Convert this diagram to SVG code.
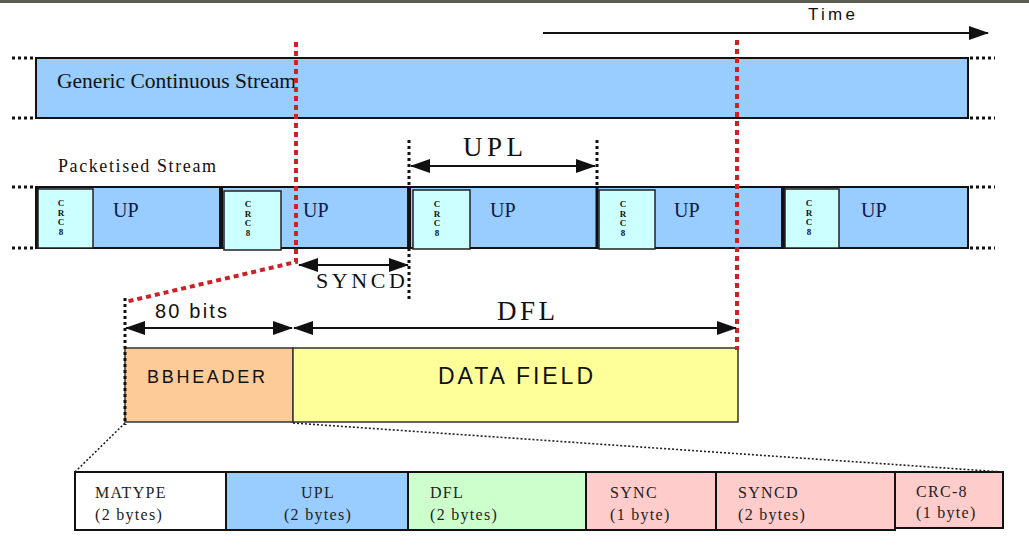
<svg xmlns="http://www.w3.org/2000/svg" width="1029" height="555" viewBox="0 0 1029 555">
<style>
.serif{font-family:"Liberation Serif","Times New Roman",serif;fill:#111}
.sans{font-family:"Liberation Sans",Arial,sans-serif;fill:#111}
.box{stroke:#111;stroke-width:2}
.blue{fill:#99ccff}
.crc{fill:#ccffff;stroke:#222;stroke-width:1.5}
.red{stroke:#cc2127;stroke-width:4;stroke-dasharray:5 4;fill:none}
.bdot{stroke:#111;stroke-width:3;stroke-dasharray:3 3;fill:none}
.tdot{stroke:#222;stroke-width:1.6;stroke-dasharray:2 2;fill:none}
.arr{stroke:#111;stroke-width:2;fill:none}
.crct{font-family:"Liberation Serif","Times New Roman",serif;font-weight:bold;font-size:9px;fill:#111;text-anchor:middle}
.up{font-family:"Liberation Serif","Times New Roman",serif;font-size:20px;fill:#0a1a4a}
.cell{stroke:#111;stroke-width:2}
.ct{font-family:"Liberation Serif","Times New Roman",serif;font-size:16px;fill:#222;letter-spacing:1.3px}
</style>
<defs>
<marker id="ah" viewBox="0 0 20 14" refX="19" refY="7" markerWidth="20" markerHeight="14" markerUnits="userSpaceOnUse" orient="auto-start-reverse">
<path d="M0,0 L20,7 L0,14 Z" fill="#111"/>
</marker>
</defs>
<rect x="0" y="0" width="1029" height="3" fill="#5b5b4f"/>

<g id="time">
<line x1="543" y1="33" x2="988" y2="33" class="arr" marker-end="url(#ah)"/>
<text x="808" y="20" class="sans" font-size="17" textLength="47" lengthAdjust="spacing">Time</text>
</g>

<g id="generic-stream">
<rect x="36" y="58" width="932" height="60" class="box blue"/>
<text x="57" y="88" class="serif" font-size="21" fill="#0a1a4a" textLength="239" lengthAdjust="spacingAndGlyphs">Generic Continuous Stream</text>
<line x1="12" y1="58" x2="36" y2="58" class="bdot"/>
<line x1="12" y1="118" x2="36" y2="118" class="bdot"/>
<line x1="970" y1="58" x2="995" y2="58" class="bdot"/>
<line x1="970" y1="118" x2="995" y2="118" class="bdot"/>
</g>

<g id="packetised-stream">
<text x="58" y="172" class="serif" font-size="18" textLength="158" lengthAdjust="spacing">Packetised Stream</text>
<rect x="36" y="187" width="932" height="61" class="box blue"/>
<line x1="37" y1="187" x2="37" y2="248" stroke="#111" stroke-width="4"/>
<line x1="221" y1="187" x2="221" y2="248" stroke="#111" stroke-width="4"/>
<line x1="409" y1="187" x2="409" y2="248" stroke="#111" stroke-width="4"/>
<line x1="597" y1="187" x2="597" y2="248" stroke="#111" stroke-width="3"/>
<line x1="783" y1="187" x2="783" y2="248" stroke="#111" stroke-width="4"/>
<rect x="38" y="189" width="55" height="59" class="crc"/>
<rect x="224" y="191" width="57" height="59" class="crc"/>
<rect x="413" y="190" width="57" height="59" class="crc"/>
<rect x="599" y="190" width="56" height="59" class="crc"/>
<rect x="785" y="189" width="54" height="59" class="crc"/>
<text class="crct"><tspan x="61" y="206">C</tspan><tspan x="61" y="215.5">R</tspan><tspan x="61" y="225">C</tspan><tspan x="61" y="234.5">8</tspan></text>
<text class="crct"><tspan x="248" y="207">C</tspan><tspan x="248" y="216.5">R</tspan><tspan x="248" y="226">C</tspan><tspan x="248" y="235.5">8</tspan></text>
<text class="crct"><tspan x="437" y="207">C</tspan><tspan x="437" y="216.5">R</tspan><tspan x="437" y="226">C</tspan><tspan x="437" y="235.5">8</tspan></text>
<text class="crct"><tspan x="623" y="207">C</tspan><tspan x="623" y="216.5">R</tspan><tspan x="623" y="226">C</tspan><tspan x="623" y="235.5">8</tspan></text>
<text class="crct"><tspan x="809" y="206">C</tspan><tspan x="809" y="215.5">R</tspan><tspan x="809" y="225">C</tspan><tspan x="809" y="234.5">8</tspan></text>
<text x="113" y="217" class="up">UP</text>
<text x="303" y="217" class="up">UP</text>
<text x="490" y="217" class="up">UP</text>
<text x="674" y="217" class="up">UP</text>
<text x="861" y="217" class="up">UP</text>
<line x1="12" y1="187" x2="36" y2="187" class="bdot"/>
<line x1="12" y1="248" x2="36" y2="248" class="bdot"/>
<line x1="970" y1="187" x2="995" y2="187" class="bdot"/>
<line x1="970" y1="248" x2="995" y2="248" class="bdot"/>
</g>

<g id="bbheader">
<rect x="125" y="348" width="168" height="74" fill="#fccb98" stroke="#333" stroke-width="1.5"/>
<text x="147" y="383" class="sans" font-size="18" textLength="118" lengthAdjust="spacing">BBHEADER</text>
</g>
<g id="data-field">
<rect x="293" y="348" width="445" height="74" fill="#ffff99" stroke="#333" stroke-width="1.5"/>
<text x="438" y="384" class="sans" font-size="23" textLength="155" lengthAdjust="spacing">DATA FIELD</text>
</g>

<g id="bbheader-fields">
<rect x="75" y="472" width="151" height="58" fill="#ffffff" class="cell"/>
<rect x="226" y="472" width="182" height="58" fill="#99ccff" class="cell"/>
<rect x="408" y="472" width="178" height="58" fill="#ccffcc" class="cell"/>
<rect x="586" y="472" width="130" height="58" fill="#ffcccc" class="cell"/>
<rect x="716" y="472" width="179" height="58" fill="#ffcccc" class="cell"/>
<rect x="895" y="472" width="108" height="56" fill="#ffcccc" class="cell"/>
<text class="ct"><tspan x="95" y="498">MATYPE</tspan><tspan x="95" y="520">(2 bytes)</tspan></text>
<text class="ct" text-anchor="middle"><tspan x="318" y="498">UPL</tspan><tspan x="318" y="520">(2 bytes)</tspan></text>
<text class="ct"><tspan x="430" y="498">DFL</tspan><tspan x="430" y="520">(2 bytes)</tspan></text>
<text class="ct"><tspan x="610" y="498">SYNC</tspan><tspan x="610" y="520">(1 byte)</tspan></text>
<text class="ct"><tspan x="738" y="498">SYNCD</tspan><tspan x="738" y="520">(2 bytes)</tspan></text>
<text class="ct"><tspan x="916" y="497">CRC-8</tspan><tspan x="916" y="518">(1 byte)</tspan></text>
</g>

<g id="connectors">
<polyline points="296,42 296,262 125,302" class="red"/>
<line x1="737" y1="40" x2="737" y2="350" class="red"/>
<line x1="409" y1="140" x2="409" y2="300" class="bdot"/>
<line x1="597" y1="140" x2="597" y2="187" class="bdot"/>
<line x1="125" y1="298" x2="125" y2="425" class="bdot"/>
<line x1="125" y1="423" x2="75" y2="472" class="tdot"/>
<line x1="293" y1="423" x2="1003" y2="472" class="tdot"/>
<line x1="411" y1="166" x2="595" y2="166" class="arr" marker-start="url(#ah)" marker-end="url(#ah)"/>
<text x="463" y="156" class="serif" font-size="27" textLength="60" lengthAdjust="spacing">UPL</text>
<line x1="299" y1="265" x2="408" y2="265" class="arr" marker-start="url(#ah)" marker-end="url(#ah)"/>
<text x="316" y="288" class="serif" font-size="22" textLength="89" lengthAdjust="spacing">SYNCD</text>
<line x1="126" y1="328" x2="292" y2="328" class="arr" marker-start="url(#ah)" marker-end="url(#ah)"/>
<line x1="294" y1="328" x2="736" y2="328" class="arr" marker-start="url(#ah)" marker-end="url(#ah)"/>
<text x="155" y="318" class="sans" font-size="20" textLength="72" lengthAdjust="spacing">80 bits</text>
<text x="497" y="320" class="serif" font-size="27" textLength="58" lengthAdjust="spacing">DFL</text>
</g>
</svg>
